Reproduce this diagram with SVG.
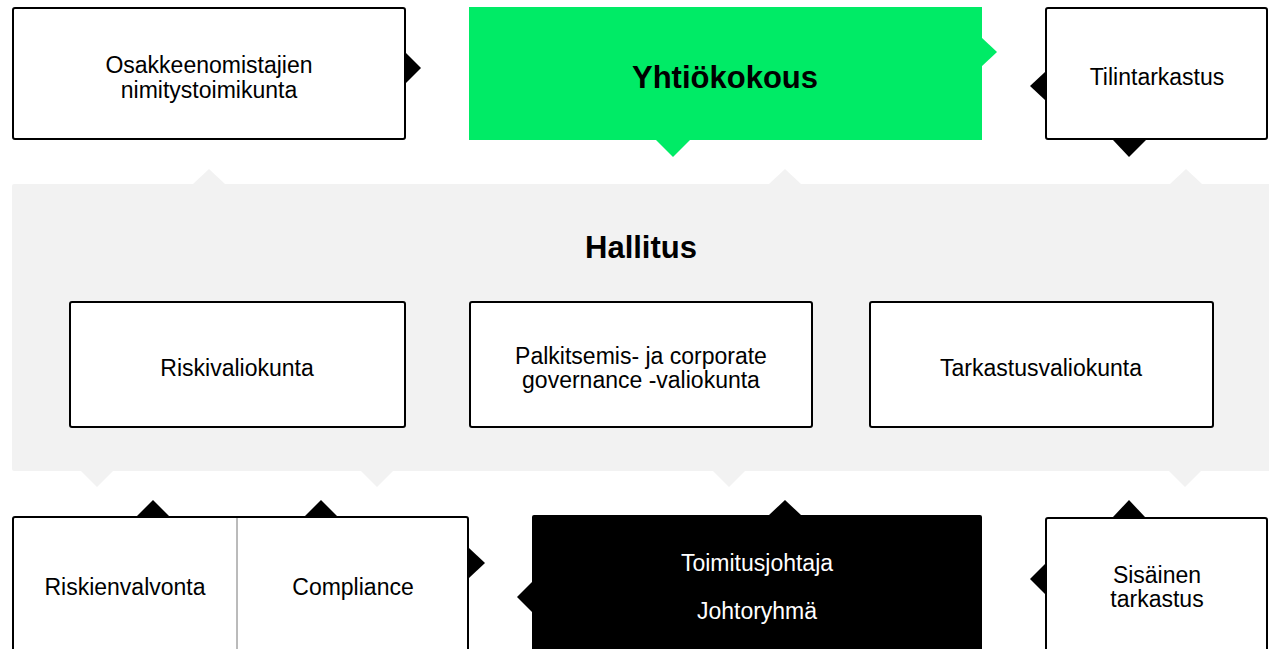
<svg xmlns="http://www.w3.org/2000/svg" width="1269" height="649" viewBox="0 0 1269 649">
<style>
  .box{fill:#ffffff;stroke:#000000;stroke-width:2}
  .t{font-family:"Liberation Sans",Arial,sans-serif;font-size:23px;fill:#000000;text-anchor:middle}
  .tw{fill:#ffffff}
  .b{font-family:"Liberation Sans",Arial,sans-serif;font-size:31px;font-weight:bold;fill:#000000;text-anchor:middle}
  .gray{fill:#f2f2f2}
  .arr{fill:#000000}
  .garr{fill:#00eb66}
</style>
<rect width="1269" height="649" fill="#ffffff"/>

<g id="hallitus">
  <rect class="gray" x="12" y="184" width="1259" height="287" rx="2"/>
  <polygon class="gray" points="193,184 209,169 225,184"/>
  <polygon class="gray" points="769,184 785,169 801,184"/>
  <polygon class="gray" points="1170,184 1186,169 1202,184"/>
  <polygon class="gray" points="80,470 97,487 114,470"/>
  <polygon class="gray" points="360,470 377,487 394,470"/>
  <polygon class="gray" points="712,470 729,487 746,470"/>
  <polygon class="gray" points="1168,470 1185,487 1202,470"/>
  <text class="b" x="641" y="258">Hallitus</text>
</g>

<g id="nimitystoimikunta">
  <rect class="box" x="13" y="8" width="392" height="131" rx="2"/>
  <text class="t" x="209" y="73">Osakkeenomistajien</text>
  <text class="t" x="209" y="98">nimitystoimikunta</text>
</g>

<g id="yhtiokokous">
  <rect x="469" y="7" width="513" height="133" fill="#00eb66"/>
  <text class="b" x="725" y="88">Yhtiökokous</text>
</g>

<g id="tilintarkastus">
  <rect class="box" x="1046" y="8" width="221" height="131" rx="2"/>
  <text class="t" x="1157" y="85">Tilintarkastus</text>
</g>

<g id="riskivaliokunta">
  <rect class="box" x="70" y="302" width="335" height="125" rx="2"/>
  <text class="t" x="237" y="376">Riskivaliokunta</text>
</g>

<g id="palkitsemisvaliokunta">
  <rect class="box" x="470" y="302" width="342" height="125" rx="2"/>
  <text class="t" x="641" y="364">Palkitsemis- ja corporate</text>
  <text class="t" x="641" y="388">governance -valiokunta</text>
</g>

<g id="tarkastusvaliokunta">
  <rect class="box" x="870" y="302" width="343" height="125" rx="2"/>
  <text class="t" x="1041" y="376">Tarkastusvaliokunta</text>
</g>

<g id="riskienvalvonta-compliance">
  <rect class="box" x="13" y="517" width="455" height="150" rx="2"/>
  <line x1="237" y1="518" x2="237" y2="649" stroke="#777777" stroke-width="1"/>
  <text class="t" x="125" y="595">Riskienvalvonta</text>
  <text class="t" x="353" y="595">Compliance</text>
</g>

<g id="toimitusjohtaja">
  <rect x="532" y="515" width="450" height="150" rx="2" fill="#000000"/>
  <text class="t tw" x="757" y="571">Toimitusjohtaja</text>
  <text class="t tw" x="757" y="619">Johtoryhmä</text>
</g>

<g id="sisainen-tarkastus">
  <rect class="box" x="1046" y="518" width="221" height="150" rx="2"/>
  <text class="t" x="1157" y="583">Sisäinen</text>
  <text class="t" x="1157" y="607">tarkastus</text>
</g>

<g id="connectors">
  <polygon class="arr" points="406,53 421,68 406,83"/>
  <polygon class="garr" points="655,139 691,139 673,157"/>
  <polygon class="garr" points="981,37 997,52 981,67"/>
  <polygon class="arr" points="1045,72 1030,86 1045,100"/>
  <polygon class="arr" points="1113,140 1146,140 1129,157"/>
  <polygon class="arr" points="137,516 153,500 169,516"/>
  <polygon class="arr" points="305,516 321,500 337,516"/>
  <polygon class="arr" points="469,548 485,563 469,578"/>
  <polygon class="arr" points="532,582 517,597 532,612"/>
  <polygon class="arr" points="769,515 785,500 801,515"/>
  <polygon class="arr" points="1045,564 1030,579 1045,594"/>
  <polygon class="arr" points="1113,517 1129,500 1145,517"/>
</g>
</svg>
